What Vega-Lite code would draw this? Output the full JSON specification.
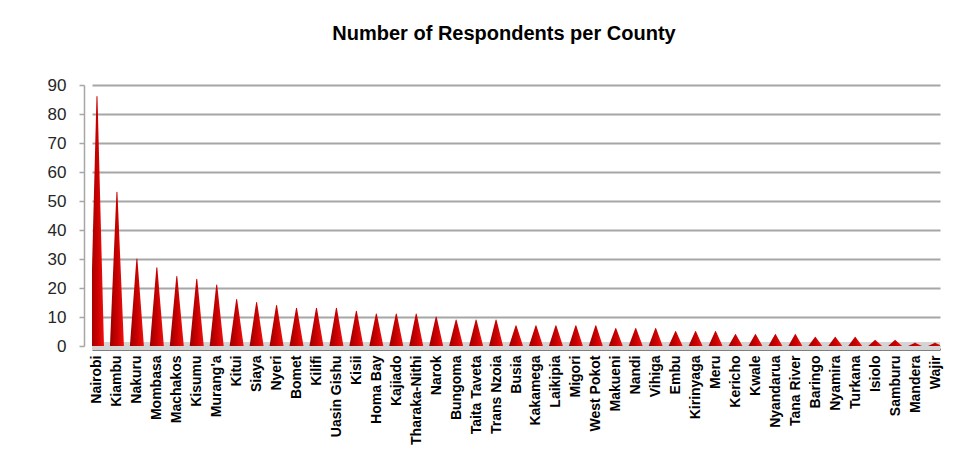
{
  "$schema": "https://vega.github.io/schema/vega-lite/v6.json",
  "width": 848,
  "height": 261,
  "autosize": {"type": "none"},
  "padding": {"left": 92, "top": 85, "right": 39, "bottom": 119},
  "background": "white",
  "title": {
    "text": "Number of Respondents per County",
    "font": "Liberation Sans",
    "fontSize": 20,
    "fontWeight": "bold",
    "color": "#000000",
    "anchor": "middle",
    "dx": -12,
    "offset": 32
  },
  "data": {
    "values": [
      {"county": "Nairobi", "n": 86},
      {"county": "Kiambu", "n": 53},
      {"county": "Nakuru", "n": 30},
      {"county": "Mombasa", "n": 27},
      {"county": "Machakos", "n": 24},
      {"county": "Kisumu", "n": 23},
      {"county": "Murang'a", "n": 21},
      {"county": "Kitui", "n": 16},
      {"county": "Siaya", "n": 15},
      {"county": "Nyeri", "n": 14},
      {"county": "Bomet", "n": 13},
      {"county": "Kilifi", "n": 13},
      {"county": "Uasin Gishu", "n": 13},
      {"county": "Kisii", "n": 12},
      {"county": "Homa Bay", "n": 11},
      {"county": "Kajiado", "n": 11},
      {"county": "Tharaka-Nithi", "n": 11},
      {"county": "Narok", "n": 10},
      {"county": "Bungoma", "n": 9},
      {"county": "Taita Taveta", "n": 9},
      {"county": "Trans Nzoia", "n": 9},
      {"county": "Busia", "n": 7},
      {"county": "Kakamega", "n": 7},
      {"county": "Laikipia", "n": 7},
      {"county": "Migori", "n": 7},
      {"county": "West Pokot", "n": 7},
      {"county": "Makueni", "n": 6},
      {"county": "Nandi", "n": 6},
      {"county": "Vihiga", "n": 6},
      {"county": "Embu", "n": 5},
      {"county": "Kirinyaga", "n": 5},
      {"county": "Meru", "n": 5},
      {"county": "Kericho", "n": 4},
      {"county": "Kwale", "n": 4},
      {"county": "Nyandarua", "n": 4},
      {"county": "Tana River", "n": 4},
      {"county": "Baringo", "n": 3},
      {"county": "Nyamira", "n": 3},
      {"county": "Turkana", "n": 3},
      {"county": "Isiolo", "n": 2},
      {"county": "Samburu", "n": 2},
      {"county": "Mandera", "n": 1},
      {"county": "Wajir", "n": 1}
    ]
  },
  "transform": [
    {"fold": ["n"], "as": ["key", "value"]},
    {"impute": "value", "key": "key", "keyvals": ["base", "n"], "groupby": ["county"], "value": 0}
  ],
  "encoding": {
    "x": {
      "field": "county",
      "type": "nominal",
      "sort": null,
      "title": null,
      "scale": {"type": "point", "padding": 0.25},
      "axis": {
        "labelAngle": -90,
        "labelFont": "Liberation Sans",
        "labelFontSize": 14,
        "labelFontWeight": "bold",
        "labelColor": "#000000",
        "labelPadding": 6,
        "ticks": false,
        "domainColor": "#000000",
        "domainWidth": 2,
        "offset": 3,
        "grid": false
      }
    },
    "y": {
      "field": "value",
      "type": "quantitative",
      "title": null,
      "scale": {"domain": [0, 90], "nice": false},
      "axis": {
        "values": [0, 10, 20, 30, 40, 50, 60, 70, 80, 90],
        "labelFont": "Liberation Sans",
        "labelFontSize": 17,
        "labelColor": "#262626",
        "labelPadding": 13,
        "tickColor": "#a6a6a6",
        "tickSize": 5,
        "tickWidth": 1.5,
        "domainColor": "#a6a6a6",
        "domainWidth": 1.5,
        "gridColor": "#a6a6a6",
        "gridWidth": 2,
        "offset": 8
      }
    }
  },
  "layer": [
    {
      "mark": {"type": "rule", "stroke": "#d4d4d4", "strokeWidth": 7},
      "encoding": {"y": {"datum": 0}, "x": null}
    },
    {
      "mark": {
        "type": "trail",
        "clip": true,
        "fill": {
          "gradient": "linear",
          "x1": 0, "y1": 0, "x2": 1, "y2": 0,
          "stops": [
            {"offset": 0, "color": "#9a0000"},
            {"offset": 0.5, "color": "#c80000"},
            {"offset": 1, "color": "#f01010"}
          ]
        }
      },
      "encoding": {
        "detail": {"field": "county"},
        "order": {"field": "key"},
        "size": {
          "field": "key",
          "type": "ordinal",
          "scale": {"domain": ["base", "n"], "range": [14, 0]},
          "legend": null
        }
      }
    }
  ],
  "config": {"view": {"stroke": null}}
}
